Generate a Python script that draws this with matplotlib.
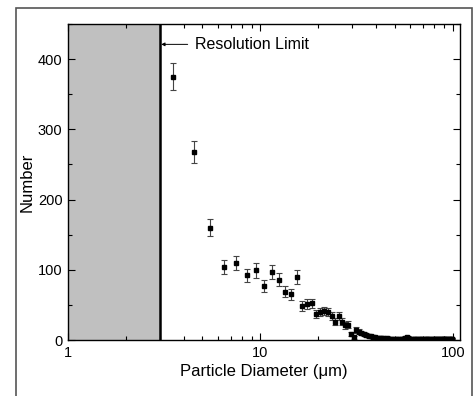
import matplotlib
matplotlib.use("Agg")
import matplotlib.pyplot as plt
from matplotlib.patches import Rectangle
from matplotlib.ticker import FixedLocator, NullFormatter, MultipleLocator

plt.rcParams['font.family'] = ['Liberation Sans', 'DejaVu Sans']

diameter = [3.5, 4.5, 5.5, 6.5, 7.5, 8.5, 9.5, 10.5, 11.5, 12.5, 13.5, 14.5, 15.5,
            16.5, 17.5, 18.5, 19.5, 20.5, 21.5, 22.5, 23.5, 24.5, 25.5, 26.5, 27.5,
            28.5, 29.5, 30.5, 31.5, 32.5, 33.5, 34.5, 35.5, 36.5, 37.5, 38.5, 39.5,
            40.5, 41.5, 42.5, 43.5, 44.5, 45.5, 46.5, 47.5, 48.5, 49.5, 50.5, 51.5,
            52.5, 53.5, 54.5, 55.5, 56.5, 57.5, 58.5, 59.5, 60.5, 61.5, 62.5, 63.5,
            64.5, 65.5, 66.5, 67.5, 68.5, 69.5, 70.5, 71.5, 72.5, 73.5, 74.5, 75.5,
            76.5, 77.5, 78.5, 79.5, 80.5, 81.5, 82.5, 83.5, 84.5, 85.5, 86.5, 87.5,
            88.5, 89.5, 90.5, 91.5, 92.5, 93.5, 94.5, 95.5, 96.5, 97.5, 98.5, 99.5]
number = [375, 268, 160, 104, 110, 92, 99, 77, 97, 86, 69, 65, 90,
          49, 51, 52, 37, 40, 41, 40, 34, 26, 34, 26, 21,
          22, 9, 4, 14, 12, 10, 9, 7, 5, 5, 4, 4,
          3, 3, 3, 3, 2, 3, 2, 2, 2, 2, 2, 2,
          1, 2, 1, 2, 3, 4, 3, 2, 1, 1, 1, 1,
          1, 1, 1, 1, 1, 1, 1, 1, 1, 1, 1, 1,
          1, 1, 1, 1, 1, 1, 1, 1, 1, 1, 1, 1,
          1, 1, 1, 1, 1, 1, 1, 1, 1, 2, 2, 2]
error = [19, 16, 12, 10, 10, 9, 10, 8, 10, 9, 8, 8, 10,
         7, 7, 7, 6, 6, 6, 6, 6, 5, 6, 5, 5,
         5, 3, 2, 4, 3, 3, 3, 3, 2, 2, 2, 2,
         2, 2, 2, 2, 1, 2, 1, 1, 1, 1, 1, 1,
         1, 1, 1, 1, 2, 2, 2, 1, 1, 1, 1, 1,
         1, 1, 1, 1, 1, 1, 1, 1, 1, 1, 1, 1,
         1, 1, 1, 1, 1, 1, 1, 1, 1, 1, 1, 1,
         1, 1, 1, 1, 1, 1, 1, 1, 1, 1, 1, 1]

resolution_limit = 3.0

fig = plt.figure(figsize=(4.75, 3.96), dpi=100)
fig.patches.append(Rectangle((15.5/475, -0.05), (472-15.5)/475, 1 - 8/396 + 0.05,
                             transform=fig.transFigure, fill=False,
                             edgecolor='#555555', linewidth=1.2))
ax = fig.add_axes([68/475, 1 - 340/396, (460-68)/475, (340-24)/396])

ax.set_xscale('log')
ax.set_xlim(1, 109)
ax.set_ylim(0, 450)

ax.axvspan(1, resolution_limit, color='#c0c0c0', lw=0, zorder=0)
ax.axvline(resolution_limit, color='black', lw=1.8, zorder=3)

ax.errorbar(diameter, number, yerr=error, fmt='s', color='black', ms=3.2,
            ecolor='#444444', elinewidth=0.8, capsize=2.5, capthick=0.8, zorder=4)

ax.annotate('Resolution Limit', xy=(resolution_limit, 421), xytext=(4.55, 421),
            fontsize=11.5, va='center', ha='left',
            arrowprops=dict(arrowstyle='-|>', color='black', lw=0.7,
                            mutation_scale=5, shrinkA=3, shrinkB=1))

ax.xaxis.set_major_locator(FixedLocator([1, 10, 100]))
ax.set_xticklabels(['1', '10', '100'])
ax.xaxis.set_minor_locator(FixedLocator([2, 3, 4, 5, 6, 7, 8, 9,
                                         20, 30, 40, 50, 60, 70, 80, 90]))
ax.xaxis.set_minor_formatter(NullFormatter())
ax.yaxis.set_major_locator(MultipleLocator(100))
ax.yaxis.set_minor_locator(MultipleLocator(50))

ax.tick_params(which='both', direction='in', top=True, right=True, labelsize=10.5,
               width=0.8, pad=4)
ax.tick_params(which='major', length=5)
ax.tick_params(which='minor', length=3)
for s in ax.spines.values():
    s.set_linewidth(1.0)

ax.set_xlabel('Particle Diameter (\u03bcm)', fontsize=12, labelpad=3)
ax.set_ylabel('Number', fontsize=12, labelpad=2)

fig.savefig('out.png', dpi=100)
